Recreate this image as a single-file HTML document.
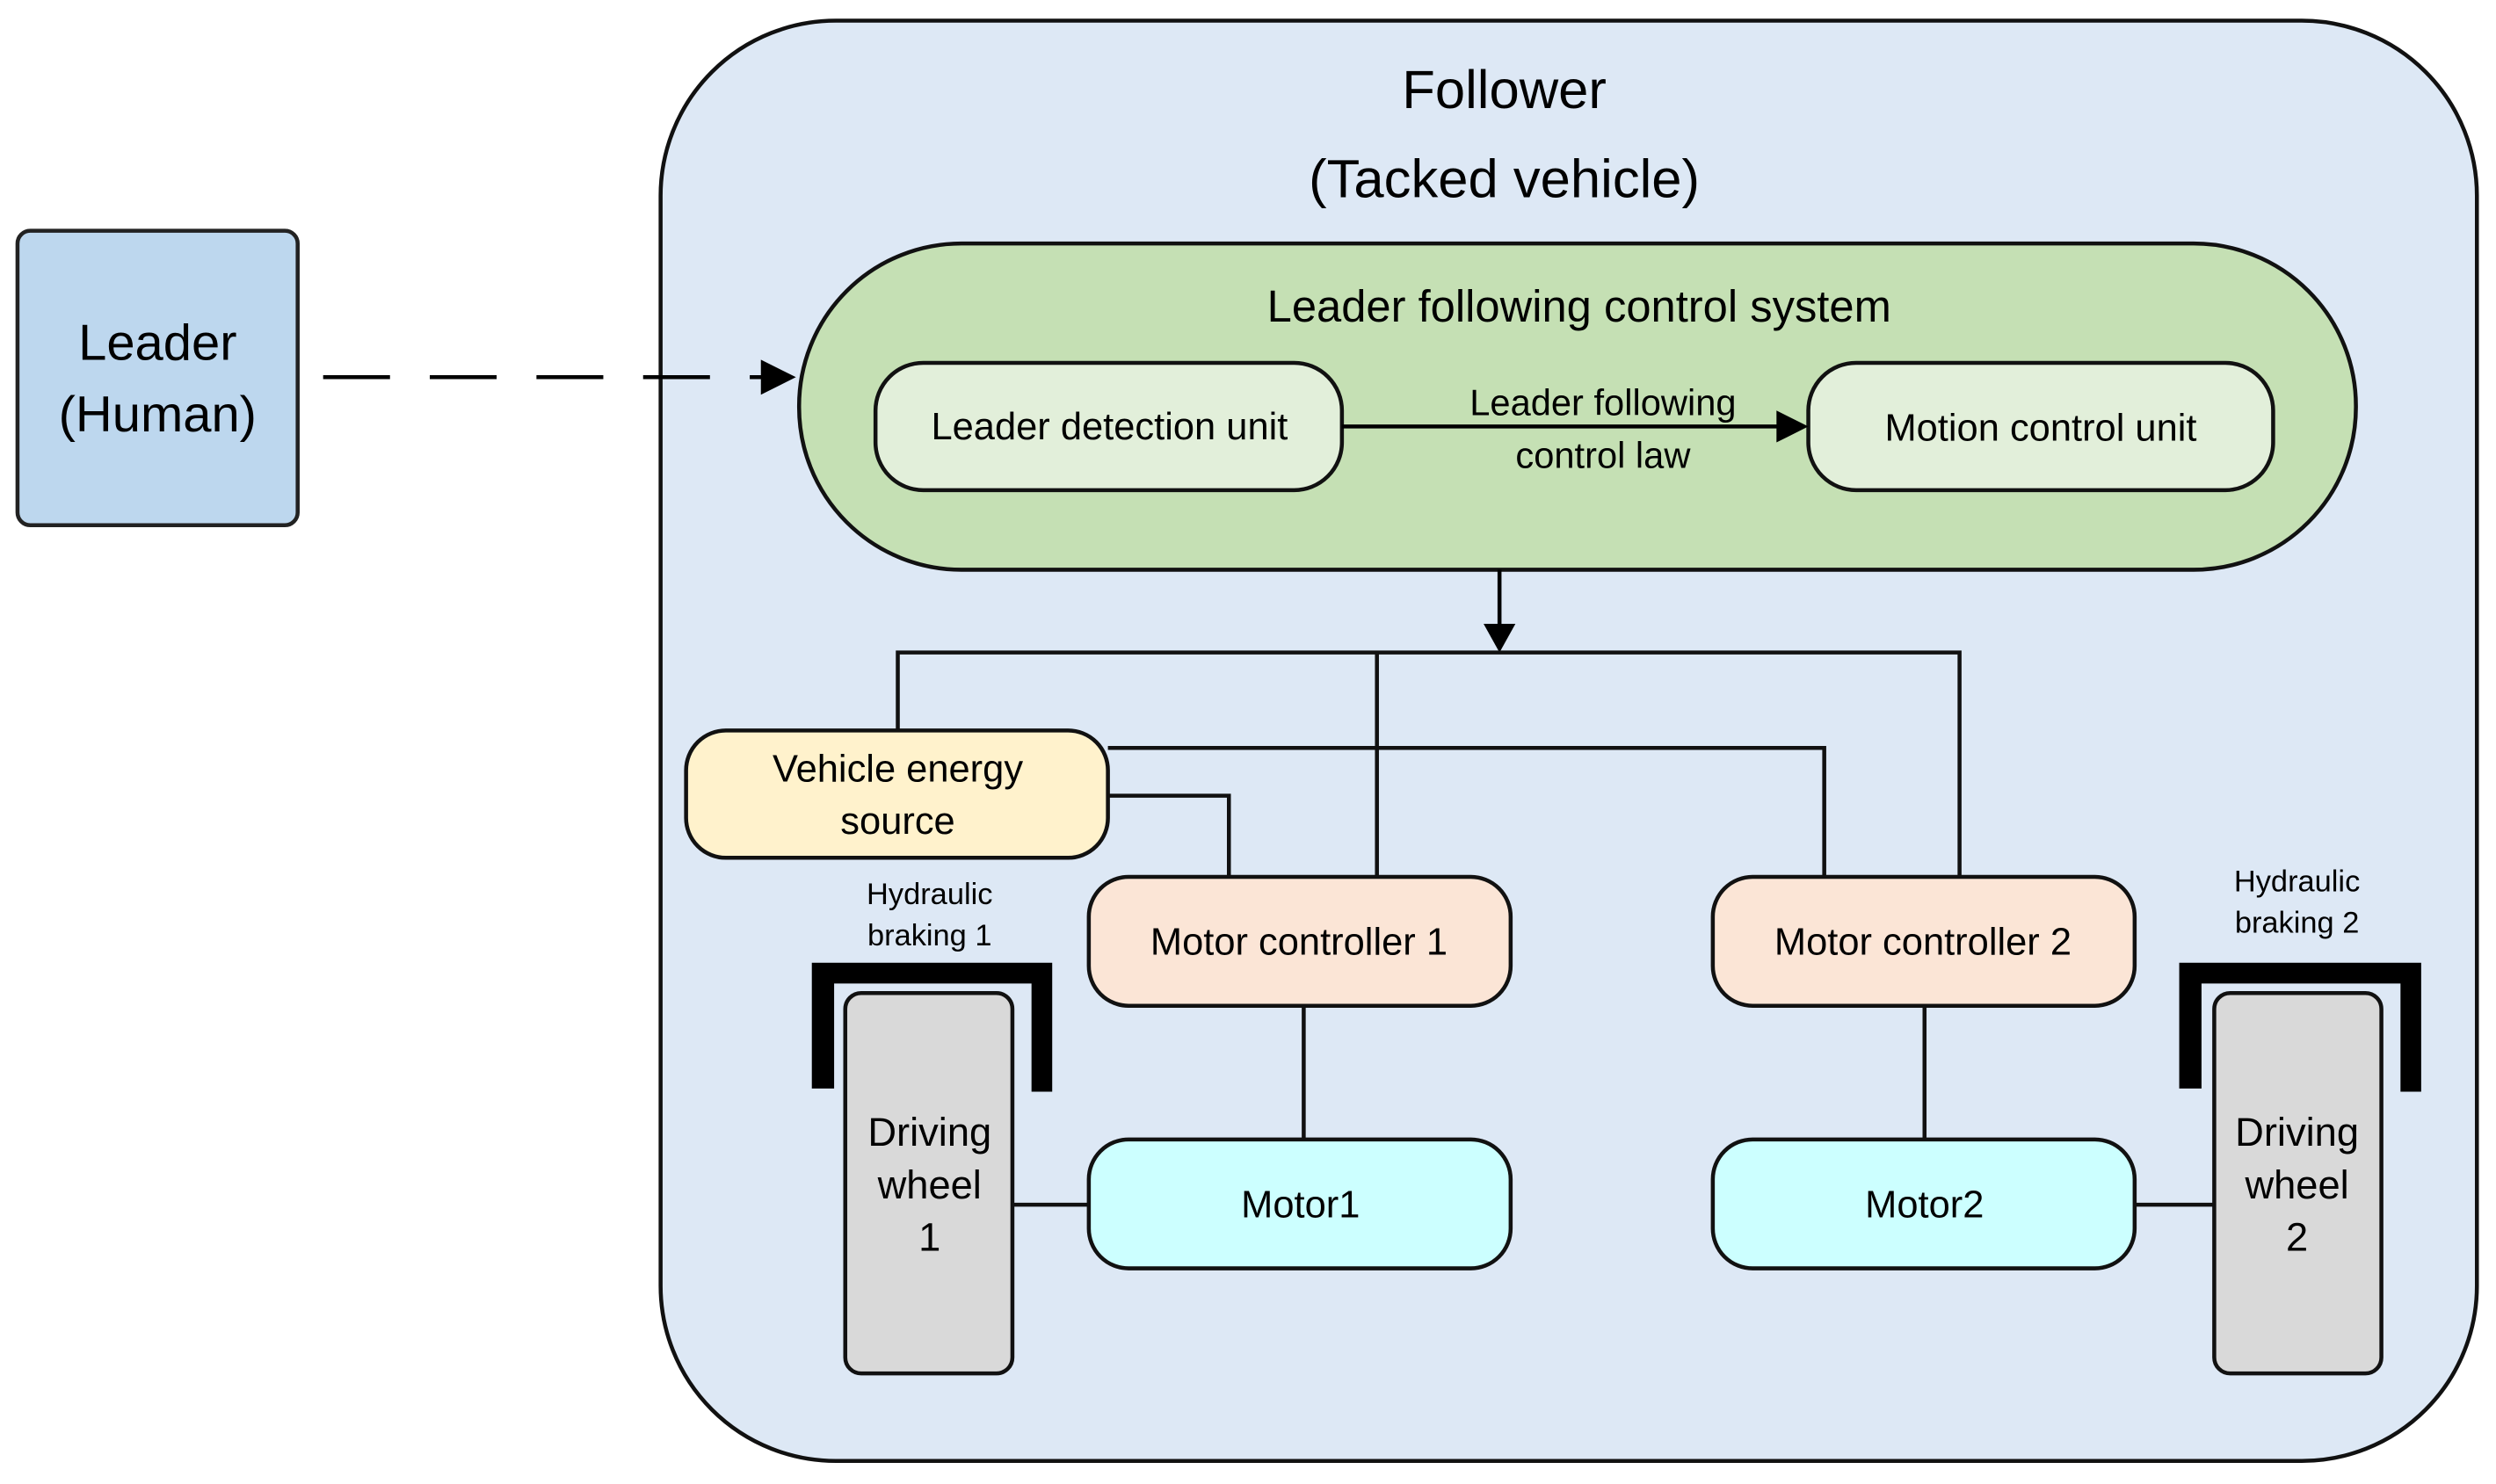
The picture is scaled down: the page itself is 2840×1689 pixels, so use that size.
<!DOCTYPE html>
<html><head><meta charset="utf-8"><style>html,body{margin:0;padding:0;background:#fff}svg{display:block}</style></head>
<body>
<svg width="2840" height="1689" viewBox="0 0 1568 932.5" preserveAspectRatio="none" xmlns="http://www.w3.org/2000/svg" font-family="Liberation Sans, sans-serif" fill="#000">
<defs><marker id="ah" markerWidth="10" markerHeight="10" refX="9" refY="5" orient="auto" markerUnits="userSpaceOnUse"><path d="M0,0 L10,5 L0,10 z"/></marker>
<marker id="ah2" markerWidth="22" markerHeight="22" refX="20" refY="11" orient="auto" markerUnits="userSpaceOnUse"><path d="M0,0 L22,11 L0,22 z"/></marker></defs>
<rect x="11" y="145" width="176" height="185" rx="8" fill="#bdd7ee" stroke="#222" stroke-width="2.5"/>
<text x="99" y="226" font-size="32" text-anchor="middle">Leader</text>
<text x="99" y="271" font-size="32" text-anchor="middle">(Human)</text>
<rect x="415" y="13" width="1141" height="905" rx="110" fill="#dde8f5" stroke="#111" stroke-width="2.5"/>
<line x1="203" y1="237" x2="480" y2="237" stroke="#000" stroke-width="2.5" stroke-dasharray="42,25"/>
<path d="M478,226 L500,237 L478,248 z"/>
<text x="945" y="68" font-size="34" text-anchor="middle">Follower</text>
<text x="945" y="124" font-size="34" text-anchor="middle">(Tacked vehicle)</text>
<rect x="502" y="153" width="978" height="205" rx="102" fill="#c5e0b4" stroke="#111" stroke-width="2.5"/>
<text x="992" y="202" font-size="28" text-anchor="middle">Leader following control system</text>
<rect x="550" y="228" width="293" height="80" rx="30" fill="#e2efda" stroke="#111" stroke-width="2.5"/>
<text x="697" y="276" font-size="24" text-anchor="middle">Leader detection unit</text>
<rect x="1136" y="228" width="292" height="80" rx="30" fill="#e2efda" stroke="#111" stroke-width="2.5"/>
<text x="1282" y="277" font-size="24" text-anchor="middle">Motion control unit</text>
<line x1="843" y1="268" x2="1118" y2="268" stroke="#000" stroke-width="2.5"/>
<path d="M1116,258 L1136,268 L1116,278 z"/>
<text x="1007" y="261" font-size="23" text-anchor="middle">Leader following</text>
<text x="1007" y="294" font-size="23" text-anchor="middle">control law</text>
<line x1="942" y1="358" x2="942" y2="394" stroke="#000" stroke-width="2.5"/>
<path d="M932,392 L942,410 L952,392 z"/>
<g stroke="#111" stroke-width="2.5" fill="none">
<path d="M564,459 V410 H1231 V551"/>
<path d="M865,410 V551"/>
<path d="M696,470 H1146 V551"/>
<path d="M696,500 H772 V551"/>
<path d="M819,632 V716"/>
<path d="M1209,632 V716"/>
<path d="M636,757 H684"/>
<path d="M1341,757 H1391"/>
</g>
<rect x="431" y="459" width="265" height="80" rx="25" fill="#fff2cc" stroke="#111" stroke-width="2.5"/>
<text x="564" y="491" font-size="24" text-anchor="middle">Vehicle energy</text>
<text x="564" y="524" font-size="24" text-anchor="middle">source</text>
<rect x="684" y="551" width="265" height="81" rx="25" fill="#fbe5d6" stroke="#111" stroke-width="2.5"/>
<text x="816" y="600" font-size="24" text-anchor="middle">Motor controller 1</text>
<rect x="1076" y="551" width="265" height="81" rx="25" fill="#fbe5d6" stroke="#111" stroke-width="2.5"/>
<text x="1208" y="600" font-size="24" text-anchor="middle">Motor controller 2</text>
<rect x="684" y="716" width="265" height="81" rx="25" fill="#ccffff" stroke="#111" stroke-width="2.5"/>
<text x="817" y="765" font-size="24" text-anchor="middle">Motor1</text>
<rect x="1076" y="716" width="265" height="81" rx="25" fill="#ccffff" stroke="#111" stroke-width="2.5"/>
<text x="1209" y="765" font-size="24" text-anchor="middle">Motor2</text>
<path d="M510,605 H661 V686 H648 V618 H524 V684 H510 z"/>
<path d="M1369,605 H1521 V686 H1508 V618 H1383 V684 H1369 z"/>
<rect x="531" y="624" width="105" height="239" rx="10" fill="#d9d9d9" stroke="#111" stroke-width="2.5"/>
<rect x="1391" y="624" width="105" height="239" rx="10" fill="#d9d9d9" stroke="#111" stroke-width="2.5"/>
<g font-size="25" text-anchor="middle">
<text x="584" y="720">Driving</text><text x="584" y="753">wheel</text><text x="584" y="786">1</text>
<text x="1443" y="720">Driving</text><text x="1443" y="753">wheel</text><text x="1443" y="786">2</text>
</g>
<g font-size="19" text-anchor="middle">
<text x="584" y="568">Hydraulic</text><text x="584" y="594">braking 1</text>
<text x="1443" y="560">Hydraulic</text><text x="1443" y="586">braking 2</text>
</g>
</svg>
</body></html>
